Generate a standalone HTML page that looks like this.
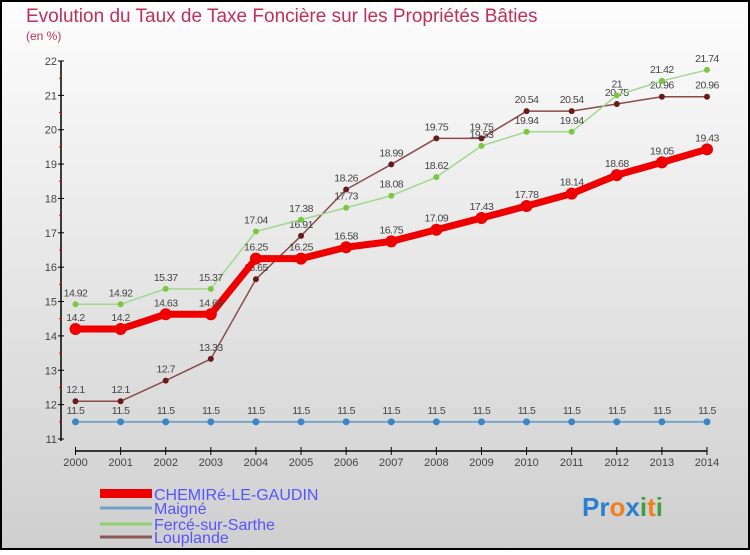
<!DOCTYPE html>
<html><head><meta charset="utf-8"><style>
body{margin:0;width:750px;height:550px;overflow:hidden;font-family:"Liberation Sans",sans-serif}
</style></head><body>
<svg width="750" height="550" xmlns="http://www.w3.org/2000/svg">
<defs><linearGradient id="bg" x1="0" y1="0" x2="0" y2="1"><stop offset="0" stop-color="#fdfdfd"/><stop offset="1" stop-color="#cfcfcf"/></linearGradient></defs>
<rect x="1" y="1" width="748" height="548" fill="url(#bg)" stroke="#000" stroke-width="2"/>
<text x="26" y="22" font-size="19" fill="#c0305a">Evolution du Taux de Taxe Foncière sur les Propriétés Bâties</text>
<text x="26" y="40" font-size="12" fill="#c0305a">(en %)</text>
<g id="axes"></g><g id="series"></g>
<g>
<rect x="100" y="489" width="52" height="9" fill="#e00"/>
<text x="154" y="500" font-size="16" fill="#5555ff">CHEMIRé-LE-GAUDIN</text>
<line x1="100" y1="508" x2="152" y2="508" stroke="#6fa0c8" stroke-width="3"/>
<text x="154" y="514" font-size="16" fill="#5555ff">Maigné</text>
<line x1="100" y1="524" x2="152" y2="524" stroke="#90d070" stroke-width="3"/>
<text x="154" y="530" font-size="16" fill="#5555ff">Fercé-sur-Sarthe</text>
<line x1="100" y1="537" x2="152" y2="537" stroke="#8a5555" stroke-width="3"/>
<text x="154" y="543" font-size="16" fill="#5555ff">Louplande</text>
</g>
<text x="582" y="516" font-size="26" font-weight="bold"><tspan fill="#2a7fd0">Pr</tspan><tspan fill="#f08020">o</tspan><tspan fill="#2a7fd0">x</tspan><tspan fill="#40a040">i</tspan><tspan fill="#f08020">t</tspan><tspan fill="#40a040">i</tspan></text>
</svg>
<script>
const years=[2000,2001,2002,2003,2004,2005,2006,2007,2008,2009,2010,2011,2012,2013,2014];
const chemire=[14.2,14.2,14.63,14.63,16.25,16.25,16.58,16.75,17.09,17.43,17.78,18.14,18.68,19.05,19.43];
const maigne=[11.5,11.5,11.5,11.5,11.5,11.5,11.5,11.5,11.5,11.5,11.5,11.5,11.5,11.5,11.5];
const ferce=[14.92,14.92,15.37,15.37,17.04,17.38,17.73,18.08,18.62,19.53,19.94,19.94,21,21.42,21.74];
const louplande=[12.1,12.1,12.7,13.33,15.65,16.91,18.26,18.99,19.75,19.75,20.54,20.54,20.75,20.96,20.96];
const yTicks=[11,12,13,14,15,16,17,18,19,20,21,22];
const NS="http://www.w3.org/2000/svg";
const x=i=>75.5+i*(707-75.5)/(years.length-1);
const y=v=>439-(v-11)*(439-61)/11;
function mk(t,a,p){const e=document.createElementNS(NS,t);for(const k in a)e.setAttribute(k,a[k]);p.appendChild(e);return e;}
const ax=document.getElementById('axes');
const yl=mk('line',{x1:61,y1:61,x2:61,y2:441,stroke:'#000','stroke-width':1.5},ax);


const xl=mk('line',{x1:75,y1:451,x2:707,y2:451,stroke:'#000','stroke-width':1.5},ax);


yTicks.forEach(v=>{
  mk('line',{x1:58,y1:y(v),x2:64,y2:y(v),stroke:'#000'},ax);
  if(v<22)mk('line',{x1:59,y1:y(v+0.5),x2:62,y2:y(v+0.5),stroke:'#e00'},ax);
  const t=mk('text',{x:57,y:y(v)+4,'text-anchor':'end','font-size':11,fill:'#444'},ax);t.textContent=v;
  
  
});
years.forEach((yr,i)=>{
  mk('line',{x1:x(i),y1:447,x2:x(i),y2:455,stroke:'#000'},ax);
  const t=mk('text',{x:x(i),y:466,'text-anchor':'middle','font-size':11,fill:'#444'},ax);t.textContent=yr;
  
  
});
const sg=document.getElementById('series');
function series(data,name,col,w,r,dot,lab){
  const g=mk('g',{},sg);
  
  
  mk('polyline',{points:data.map((v,i)=>x(i)+','+y(v)).join(' '),fill:'none',stroke:col,'stroke-width':w,'stroke-linejoin':'round'},g);
  data.forEach((v,i)=>{
    const c=mk('circle',{cx:x(i),cy:y(v),r:r,fill:dot},g);
    
    
    const t=mk('text',{x:x(i),y:y(v)-8,'text-anchor':'middle','font-size':10.5,fill:'#444','letter-spacing':'-0.5'},g);t.textContent=v;
    
    
  });
}
series(maigne,'maigne-series','#7aa6cc',2,3.5,'#3a86c8');
series(louplande,'louplande-series','#8a4a4a',1.5,3,'#6a1a1a');
series(ferce,'ferce-series','#a0d890',1.5,3,'#7ac840');
series(chemire,'chemire-series','#ee0000',7,6,'#ee0000');
</script>
</body></html>
